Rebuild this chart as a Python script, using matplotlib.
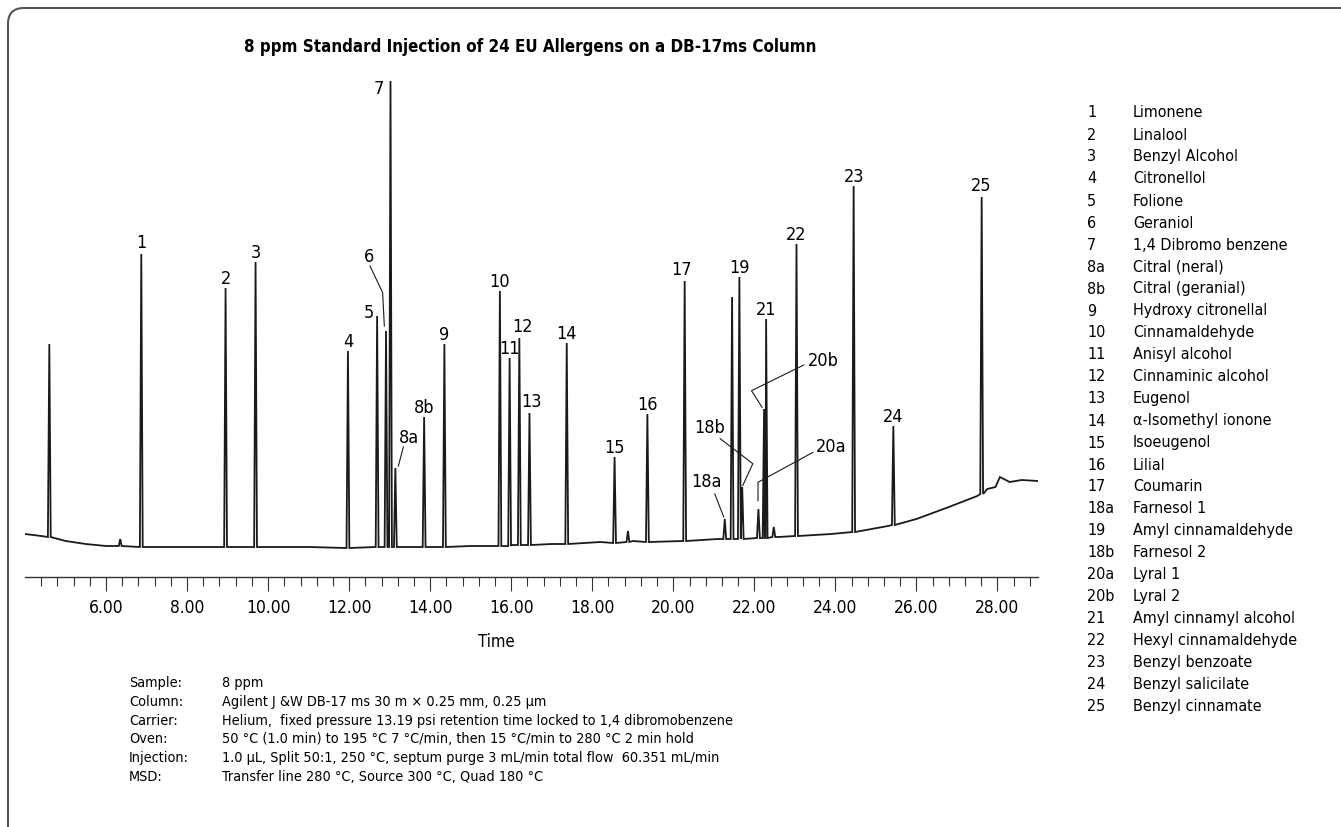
import numpy as np
import matplotlib.pyplot as plt
import matplotlib.transforms as mtransforms
from matplotlib.patches import FancyBboxPatch

plt.rcParams['font.family'] = ['DejaVu Sans']
plt.rcParams['font.stretch'] = 'condensed'

# Peaks: label, retention time (min), apex and foot abundance (arbitrary units)
peak_labels = ['', '', '1', '2', '3', '4', '5', '6', '7', '8a', '8b', '9', '10', '11', '12', '13',
               '14', '15', '', '16', '17', '18a', '', '19', '18b', '20a', '20b', '21', '', '22',
               '23', '24', '25']
peak_times = [4.60, 6.35, 6.87, 8.95, 9.69, 11.97, 12.69, 12.91, 13.02, 13.14, 13.85, 14.35, 15.72,
              15.96, 16.20, 16.45, 17.37, 18.55, 18.88, 19.36, 20.28, 21.27, 21.45, 21.63, 21.70,
              22.10, 22.24, 22.29, 22.48, 23.04, 24.45, 25.43, 27.61]
peak_tops = [233, 38, 323, 289, 315, 226, 261, 246, 496, 109, 160, 233, 286, 219, 239, 164, 234,
             120, 46, 163, 296, 58, 280, 300, 90, 68, 168, 258, 50, 333, 391, 151, 380]
peak_bases = [40, 31, 30, 30, 30, 29, 30, 30, 30, 30, 30, 30, 31, 31, 32, 32, 33, 34, 35, 35, 36,
              38, 38, 38, 38, 39, 39, 39, 40, 41, 45, 52, 83]

# Baseline (drift) read at a few retention times
base_times = [4.0, 4.4, 5.0, 5.5, 6.0, 7.5, 9.0, 11.0, 12.0, 14.0, 15.0, 16.0, 17.0, 18.2, 19.0,
              20.2, 21.1, 22.6, 23.9, 24.4, 25.3, 26.0, 26.8, 27.5, 27.75, 27.95, 28.06, 28.3,
              28.6, 29.0]
base_values = [43, 41, 36, 33, 31, 30, 30, 30, 29, 30, 31, 32, 33, 35, 36, 36, 38, 40, 43, 45, 51,
               58, 70, 81, 88, 90, 100, 95, 97, 96]

major_ticks = [6, 8, 10, 12, 14, 16, 18, 20, 22, 24, 26, 28]
minor_ticks = [4.4 + 0.4 * i for i in range(62)]

compound_ids = ['1', '2', '3', '4', '5', '6', '7', '8a', '8b', '9', '10', '11', '12', '13', '14',
                '15', '16', '17', '18a', '19', '18b', '20a', '20b', '21', '22', '23', '24', '25']
compound_names = ['Limonene', 'Linalool', 'Benzyl Alcohol', 'Citronellol', 'Folione', 'Geraniol',
                  '1,4 Dibromo benzene', 'Citral (neral)', 'Citral (geranial)',
                  'Hydroxy citronellal', 'Cinnamaldehyde', 'Anisyl alcohol',
                  'Cinnaminic alcohol', 'Eugenol', '\u03b1-Isomethyl ionone', 'Isoeugenol',
                  'Lilial', 'Coumarin', 'Farnesol 1', 'Amyl cinnamaldehyde', 'Farnesol 2',
                  'Lyral 1', 'Lyral 2', 'Amyl cinnamyl alcohol', 'Hexyl cinnamaldehyde',
                  'Benzyl benzoate', 'Benzyl salicilate', 'Benzyl cinnamate']

cond_keys = ['Sample:', 'Column:', 'Carrier:', 'Oven:', 'Injection:', 'MSD:']
cond_values = ['8 ppm',
               'Agilent J &W DB-17 ms 30 m \u00d7 0.25 mm, 0.25 \u00b5m',
               'Helium,  fixed pressure 13.19 psi retention time locked to 1,4 dibromobenzene',
               '50 \u00b0C (1.0 min) to 195 \u00b0C 7 \u00b0C/min, then 15 \u00b0C/min to 280 \u00b0C 2 min hold',
               '1.0 \u00b5L, Split 50:1, 250 \u00b0C, septum purge 3 mL/min total flow  60.351 mL/min',
               'Transfer line 280 \u00b0C, Source 300 \u00b0C, Quad 180 \u00b0C']

# layout (pixels)
W, H = 1341, 828
peak_hw = 0.035
label_shift = {'7': (-12, -17), '5': (-8, -6), '12': (3, 2), '13': (2, 2), '17': (-3, 2),
               '1': (0, 2), '25': (-1, 2)}
# leader labels: text centre, then leader vertices, as pixel offsets from the apex
leaders = {
    '6': [(-16.7, 75), (-16, 65), (-3.4, 38.4), (-1.7, 5)],
    '8a': [(14, 31), (8, 21), (3, 2)],
    '18a': [(-18.3, 38.3), (-10, 25), (-1, 2)],
    '18b': [(-32.7, 60), (-22, 48.3), (10.6, 23.3), (0.6, 1.6)],
    '20a': [(72.6, 62.7), (54.6, 56.7), (-0.4, 26.7), (-0.4, 8.3)],
    '20b': [(59, 49.3), (39.7, 44), (-12.6, 18.3), (-2, 1.7)],
}

fig = plt.figure(figsize=(W / 100, H / 100), dpi=100)
ax = fig.add_axes([25 / W, (H - 578) / H, (1038 - 25) / W, 498 / H])

# assemble the trace from baseline knots and triangular peaks
pts = [(t, v) for t, v in zip(base_times, base_values)
       if min(abs(t - p) for p in peak_times) > peak_hw]
for t, top, b in zip(peak_times, peak_tops, peak_bases):
    pts += [(t - peak_hw, b), (t, top), (t + peak_hw, b)]
pts.sort()
tt, vv = zip(*pts)
ax.plot(tt, vv, color='#1a1a1a', lw=1.3, solid_joinstyle='miter')

ax.set_xlim(4.0, 29.0)
ax.set_ylim(0, 498)
for s in ['left', 'right', 'top']:
    ax.spines[s].set_visible(False)
ax.spines['bottom'].set_color('#333333')
ax.spines['bottom'].set_linewidth(1.0)
ax.set_yticks([])
ax.set_xticks(major_ticks)
ax.set_xticklabels(['%.2f' % v for v in major_ticks])
ax.set_xticks(minor_ticks, minor=True)
ax.tick_params(axis='x', which='major', length=10, width=0.8, color='#333333', pad=5,
               labelsize=12.5)
ax.tick_params(axis='x', which='minor', length=6.5, width=0.8, color='#333333')
ax.set_xlabel('Time', fontsize=12)
ax.xaxis.set_label_coords(0.465, -0.11)

fig.canvas.draw()
inv = ax.transData.inverted()

for lab, t, top in zip(peak_labels, peak_times, peak_tops):
    if not lab:
        continue
    px, py = ax.transData.transform((t, top))
    if lab in leaders:
        offs = leaders[lab]
        tx, ty = inv.transform((px + offs[0][0], py + offs[0][1]))
        ax.text(tx, ty, lab, ha='center', va='center', fontsize=13)
        line = [inv.transform((px + dx, py + dy)) for dx, dy in offs[1:]]
        ax.plot([p[0] for p in line], [p[1] for p in line], color='#1a1a1a', lw=0.8)
    else:
        dx, dy = label_shift.get(lab, (0, 0))
        ax.annotate(lab, (t, top), xytext=(dx * 0.72, (dy + 5) * 0.72),
                    textcoords='offset points', ha='center', va='baseline', fontsize=13)

fig.text(530 / W, 1 - 47 / H, '8 ppm Standard Injection of 24 EU Allergens on a DB-17ms Column',
         ha='center', va='center', fontsize=12.2, fontweight='bold')

for i, (cid, name) in enumerate(zip(compound_ids, compound_names)):
    y = 1 - (113 + 22 * i) / H
    fig.text(1087 / W, y, cid, ha='left', va='center', fontsize=11.5)
    fig.text(1133 / W, y, name, ha='left', va='center', fontsize=11.5)

for i, (k, v) in enumerate(zip(cond_keys, cond_values)):
    y = 1 - (683 + 18.8 * i) / H
    fig.text(129 / W, y, k, ha='left', va='center', fontsize=10.4)
    fig.text(222 / W, y, v, ha='left', va='center', fontsize=10.4)

frame = FancyBboxPatch((8, -100), 1600, H - 9 + 100, boxstyle='round,pad=0,rounding_size=16',
                       transform=mtransforms.IdentityTransform(), facecolor='none',
                       edgecolor='#555555', lw=1.5)
fig.add_artist(frame)

fig.savefig('out.png', dpi=100)
